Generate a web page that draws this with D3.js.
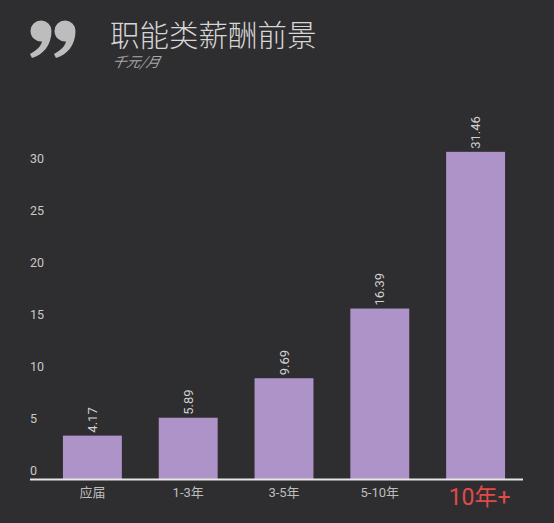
<!DOCTYPE html>
<html><head><meta charset="utf-8">
<script src="https://cdn.jsdelivr.net/npm/d3@7/dist/d3.min.js"></script>
<style>
html,body{margin:0;padding:0;background:#2e2d2f;}
svg{display:block;}
</style></head>
<body>
<svg id="c" width="554" height="523"></svg>
<script>
const categories = ["应届", "1-3年", "3-5年", "5-10年", "10年+"];
const values = [4.17, 5.89, 9.69, 16.39, 31.46];
const valueLabels = ["4.17", "5.89", "9.69", "16.39", "31.46"];
const yTicks = [0, 5, 10, 15, 20, 25, 30];
const highlightCategory = "10年+";

const svg = d3.select("#c");
const W = 554, H = 523;
svg.append("rect").attr("width", W).attr("height", H).attr("fill", "#2e2d2f");

const font = "Roboto, 'Noto Sans CJK SC', sans-serif";

// quote decoration
function comma(cx, cy) {
  const r = 10.5;
  const p = d3.path();
  p.moveTo(cx - r, cy);
  p.arc(cx, cy, r, Math.PI, 2 * Math.PI);
  p.bezierCurveTo(cx + r, cy + 14, cx + 2, cy + 24, cx - 9, cy + 27);
  p.lineTo(cx - 11, cy + 23);
  p.bezierCurveTo(cx - 4, cy + 19, cx + 0, cy + 15, cx + 1, cy + r);
  p.arc(cx, cy, r, Math.PI / 2 - 0.1, Math.PI, false);
  p.closePath();
  return p.toString();
}
svg.append("path").attr("d", comma(41, 31)).attr("fill", "#bdbdbd");
svg.append("path").attr("d", comma(65, 31)).attr("fill", "#bdbdbd");

svg.append("text").attr("x", 110).attr("y", 46)
  .attr("font-family", "'Noto Sans CJK SC', sans-serif").attr("font-size", 29.5)
  .attr("font-weight", 300)
  .attr("fill", "#d6d6d6").text("职能类薪酬前景");
svg.append("text").attr("x", 112).attr("y", 67)
  .attr("font-family", "'Noto Sans CJK SC', sans-serif").attr("font-size", 14)
  .attr("font-style", "italic").attr("fill", "#a8a8a8")
  .attr("transform", "skewX(-12) translate(14,0)").text("千元/月");

const x = d3.scaleBand().domain(categories).range([44.5, 523.5])
  .paddingInner(0.385).paddingOuter(0.1925);
const y = d3.scaleLinear().domain([0, 30]).range([479, 167]);

// y tick labels
svg.append("g").selectAll("text").data(yTicks).join("text")
  .attr("x", 30).attr("y", d => y(d) - 4)
  .attr("font-family", font).attr("font-size", 12.5)
  .attr("fill", "#c9c9c9").text(d => d);

// bars
svg.append("g").selectAll("rect").data(values).join("rect")
  .attr("x", (d, i) => x(categories[i]))
  .attr("width", x.bandwidth())
  .attr("y", d => y(d))
  .attr("height", d => y(0) - y(d))
  .attr("fill", "#ae93c9");

// value labels
svg.append("g").selectAll("text").data(values).join("text")
  .attr("transform", (d, i) => `translate(${x(categories[i]) + x.bandwidth() / 2 + 4.5},${y(d) - 3}) rotate(-90)`)
  .attr("font-family", font).attr("font-size", 13)
  .attr("fill", "#d0d0d0").text((d, i) => valueLabels[i]);

// axis line
svg.append("line").attr("x1", 30).attr("x2", 523).attr("y1", 479.5).attr("y2", 479.5)
  .attr("stroke", "#e6e6e6").attr("stroke-width", 2);

// category labels
svg.append("g").selectAll("text").data(categories).join("text")
  .attr("x", d => x(d) + x.bandwidth() / 2 + (d === highlightCategory ? 4 : 0))
  .attr("y", d => d === highlightCategory ? 505 : 497)
  .attr("text-anchor", "middle")
  .attr("font-family", font)
  .attr("font-size", d => d === highlightCategory ? 23 : 13)
  .attr("fill", d => d === highlightCategory ? "#e24a4a" : "#bdbdbd")
  .text(d => d);
</script>
</body></html>
